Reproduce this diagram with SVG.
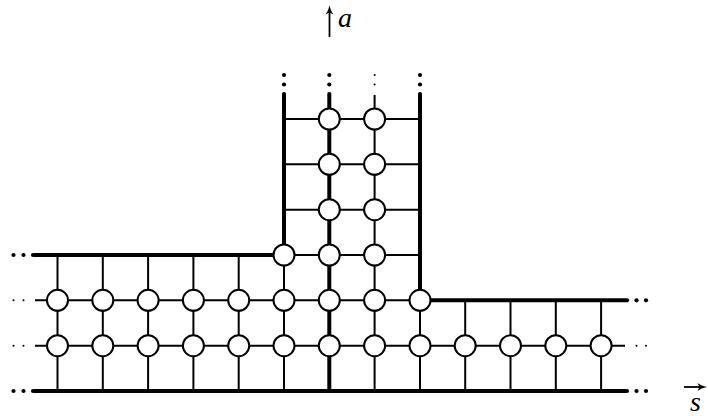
<svg xmlns="http://www.w3.org/2000/svg" width="708" height="416" viewBox="0 0 708 416">
<style>
.thin{stroke:#000;stroke-width:2;fill:none}
.thick{stroke:#000;stroke-width:4;fill:none}
.node circle{fill:#fff;stroke:#000;stroke-width:2}
.dot{fill:#000}
.lbl{font-family:"Liberation Serif","DejaVu Serif",serif;font-style:italic;font-size:28px;fill:#000}
</style>
<rect width="708" height="416" fill="#fff"/>
<g id="connectors">
  <line class="thin" x1="35" y1="345.67" x2="625" y2="345.67"/>
  <line class="thin" x1="35" y1="300.33" x2="420" y2="300.33"/>
  <line class="thin" x1="284" y1="255" x2="420" y2="255"/>
  <line class="thin" x1="284" y1="209.67" x2="420" y2="209.67"/>
  <line class="thin" x1="284" y1="164.33" x2="420" y2="164.33"/>
  <line class="thin" x1="284" y1="119" x2="420" y2="119"/>
  <line class="thin" x1="57.5" y1="255" x2="57.5" y2="391"/>
  <line class="thin" x1="102.8" y1="255" x2="102.8" y2="391"/>
  <line class="thin" x1="148.1" y1="255" x2="148.1" y2="391"/>
  <line class="thin" x1="193.4" y1="255" x2="193.4" y2="391"/>
  <line class="thin" x1="238.7" y1="255" x2="238.7" y2="391"/>
  <line class="thin" x1="284" y1="255" x2="284" y2="391"/>
  <line class="thin" x1="374.6" y1="95" x2="374.6" y2="391"/>
  <line class="thin" x1="420" y1="300.33" x2="420" y2="391"/>
  <line class="thin" x1="465.2" y1="300.33" x2="465.2" y2="391"/>
  <line class="thin" x1="510.5" y1="300.33" x2="510.5" y2="391"/>
  <line class="thin" x1="555.8" y1="300.33" x2="555.8" y2="391"/>
  <line class="thin" x1="601.1" y1="300.33" x2="601.1" y2="391"/>
  <line class="thick" x1="34" y1="255" x2="284" y2="255"/>
  <line class="thick" x1="34" y1="391" x2="626" y2="391"/>
  <line class="thick" x1="420" y1="300.33" x2="626" y2="300.33"/>
  <line class="thick" x1="284" y1="95" x2="284" y2="257"/>
  <line class="thick" x1="329.3" y1="95" x2="329.3" y2="393"/>
  <line class="thick" x1="420" y1="95" x2="420" y2="302"/>
  <g class="dot">
    <circle cx="13.5" cy="255" r="2.1"/><circle cx="23.5" cy="255" r="2.1"/><circle cx="33" cy="255" r="2.1"/>
    <circle cx="13.5" cy="391" r="2.1"/><circle cx="23.5" cy="391" r="2.1"/><circle cx="33" cy="391" r="2.1"/>
    <circle cx="13.5" cy="300.33" r="1"/><circle cx="23.5" cy="300.33" r="1"/>
    <circle cx="13.5" cy="345.67" r="1"/><circle cx="23.5" cy="345.67" r="1"/>
    <circle cx="627" cy="300.33" r="2.1"/><circle cx="636.5" cy="300.33" r="2.1"/><circle cx="646" cy="300.33" r="2.1"/>
    <circle cx="627" cy="391" r="2.1"/><circle cx="636.5" cy="391" r="2.1"/><circle cx="646" cy="391" r="2.1"/>
    <circle cx="636.5" cy="345.67" r="1"/><circle cx="646" cy="345.67" r="1"/>
    <circle cx="284" cy="75" r="2.1"/><circle cx="284" cy="84.5" r="2.1"/><circle cx="284" cy="94" r="2.1"/>
    <circle cx="329.3" cy="75" r="2.1"/><circle cx="329.3" cy="84.5" r="2.1"/><circle cx="329.3" cy="94" r="2.1"/>
    <circle cx="420" cy="75" r="2.1"/><circle cx="420" cy="84.5" r="2.1"/><circle cx="420" cy="94" r="2.1"/>
    <circle cx="374.6" cy="75" r="1"/><circle cx="374.6" cy="84.5" r="1"/>
  </g>
</g>
<g id="nodes">
  <g class="node" id="n-r1-c0"><circle cx="57.5" cy="345.67" r="10.5"/></g>
  <g class="node" id="n-r1-c1"><circle cx="102.8" cy="345.67" r="10.5"/></g>
  <g class="node" id="n-r1-c2"><circle cx="148.1" cy="345.67" r="10.5"/></g>
  <g class="node" id="n-r1-c3"><circle cx="193.4" cy="345.67" r="10.5"/></g>
  <g class="node" id="n-r1-c4"><circle cx="238.7" cy="345.67" r="10.5"/></g>
  <g class="node" id="n-r1-c5"><circle cx="284" cy="345.67" r="10.5"/></g>
  <g class="node" id="n-r1-c6"><circle cx="329.3" cy="345.67" r="10.5"/></g>
  <g class="node" id="n-r1-c7"><circle cx="374.6" cy="345.67" r="10.5"/></g>
  <g class="node" id="n-r1-c8"><circle cx="420" cy="345.67" r="10.5"/></g>
  <g class="node" id="n-r1-c9"><circle cx="465.2" cy="345.67" r="10.5"/></g>
  <g class="node" id="n-r1-c10"><circle cx="510.5" cy="345.67" r="10.5"/></g>
  <g class="node" id="n-r1-c11"><circle cx="555.8" cy="345.67" r="10.5"/></g>
  <g class="node" id="n-r1-c12"><circle cx="601.1" cy="345.67" r="10.5"/></g>
  <g class="node" id="n-r2-c0"><circle cx="57.5" cy="300.33" r="10.5"/></g>
  <g class="node" id="n-r2-c1"><circle cx="102.8" cy="300.33" r="10.5"/></g>
  <g class="node" id="n-r2-c2"><circle cx="148.1" cy="300.33" r="10.5"/></g>
  <g class="node" id="n-r2-c3"><circle cx="193.4" cy="300.33" r="10.5"/></g>
  <g class="node" id="n-r2-c4"><circle cx="238.7" cy="300.33" r="10.5"/></g>
  <g class="node" id="n-r2-c5"><circle cx="284" cy="300.33" r="10.5"/></g>
  <g class="node" id="n-r2-c6"><circle cx="329.3" cy="300.33" r="10.5"/></g>
  <g class="node" id="n-r2-c7"><circle cx="374.6" cy="300.33" r="10.5"/></g>
  <g class="node" id="n-r2-c8"><circle cx="420" cy="300.33" r="10.5"/></g>
  <g class="node" id="n-r3-c5"><circle cx="284" cy="255" r="10.5"/></g>
  <g class="node" id="n-r3-c6"><circle cx="329.3" cy="255" r="10.5"/></g>
  <g class="node" id="n-r3-c7"><circle cx="374.6" cy="255" r="10.5"/></g>
  <g class="node" id="n-r4-c6"><circle cx="329.3" cy="209.67" r="10.5"/></g>
  <g class="node" id="n-r4-c7"><circle cx="374.6" cy="209.67" r="10.5"/></g>
  <g class="node" id="n-r5-c6"><circle cx="329.3" cy="164.33" r="10.5"/></g>
  <g class="node" id="n-r5-c7"><circle cx="374.6" cy="164.33" r="10.5"/></g>
  <g class="node" id="n-r6-c6"><circle cx="329.3" cy="119" r="10.5"/></g>
  <g class="node" id="n-r6-c7"><circle cx="374.6" cy="119" r="10.5"/></g>
</g>
<g id="axis-a">
  <line x1="329.5" y1="11" x2="329.5" y2="37" stroke="#000" stroke-width="1.8"/>
  <path d="M329.5,5 C330.2,9 331.5,12 333.5,14.5 L329.5,12.5 L325.5,14.5 C327.5,12 328.8,9 329.5,5 Z" fill="#000"/>
  <text class="lbl" x="338" y="27">a</text>
</g>
<g id="axis-s">
  <line x1="684" y1="387" x2="702" y2="387" stroke="#000" stroke-width="1.8"/>
  <path d="M707,387 C703,386.3 700,385 697.5,383 L699.5,387 L697.5,391 C700,389 703,387.7 707,387 Z" fill="#000"/>
  <text class="lbl" x="690" y="411">s</text>
</g>
</svg>
